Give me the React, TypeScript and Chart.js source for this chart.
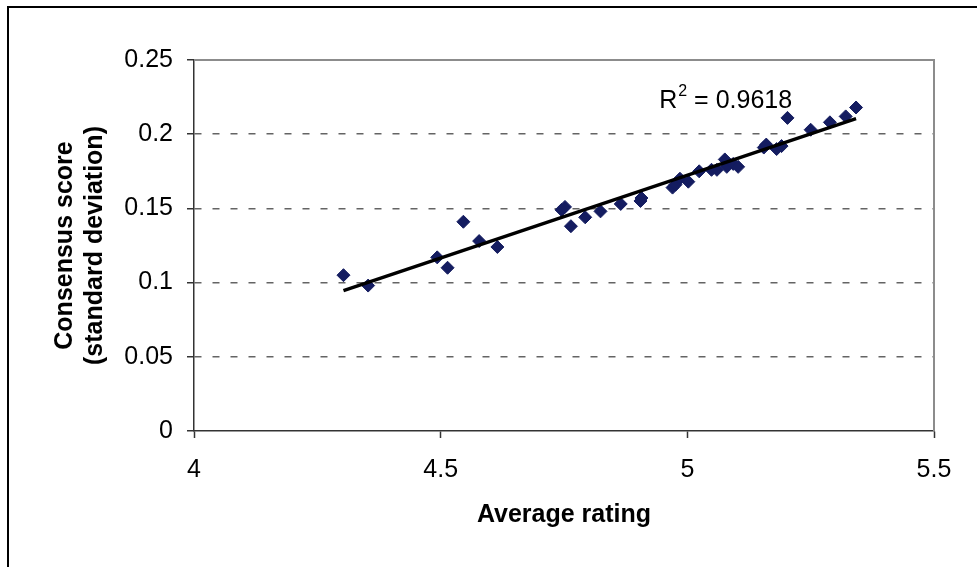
import { useEffect, useRef } from 'react';
import { Chart, registerables } from 'chart.js';

Chart.register(...registerables);

// ---- Data ----
const avgRating = [
  4.303, 4.353, 4.493, 4.514, 4.546, 4.578, 4.615, 4.745, 4.752, 4.764,
  4.793, 4.824, 4.865, 4.905, 4.907, 4.970, 4.976, 4.985, 5.002, 5.024,
  5.049, 5.060, 5.076, 5.080, 5.093, 5.103, 5.155, 5.160, 5.181, 5.191,
  5.203, 5.250, 5.289, 5.321, 5.342,
];
const consensus = [
  0.105, 0.098, 0.117, 0.110, 0.141, 0.128, 0.124, 0.149, 0.151, 0.138,
  0.144, 0.148, 0.153, 0.155, 0.157, 0.164, 0.166, 0.170, 0.168, 0.175,
  0.176, 0.176, 0.183, 0.178, 0.180, 0.178, 0.191, 0.193, 0.190, 0.192,
  0.211, 0.203, 0.208, 0.212, 0.218,
];
const xTickValues = [4, 4.5, 5, 5.5];
const xTickLabels = ['4', '4.5', '5', '5.5'];
const yTickValues = [0, 0.05, 0.1, 0.15, 0.2, 0.25];
const yTickLabels = ['0', '0.05', '0.1', '0.15', '0.2', '0.25'];
const xTitle = 'Average rating';
const yTitle = ['Consensus score', '(standard deviation)'];
const rSquaredText = '0.9618';
const rLabelAt = { x: 4.943, y: 0.2177 };

const FONT = '"Liberation Sans", Arial, Helvetica, sans-serif';
const MARKER = '#141C60';

function linearFit(xs: number[], ys: number[]) {
  const n = xs.length;
  let sx = 0, sy = 0, sxx = 0, sxy = 0;
  for (let i = 0; i < n; i++) {
    sx += xs[i]; sy += ys[i]; sxx += xs[i] * xs[i]; sxy += xs[i] * ys[i];
  }
  const slope = (n * sxy - sx * sy) / (n * sxx - sx * sx);
  const intercept = (sy - slope * sx) / n;
  return { slope, intercept };
}

const framePlugin = {
  id: 'frameAndLabel',
  beforeDatasetsDraw(chart: any) {
    const { ctx, chartArea: a } = chart;
    ctx.save();
    ctx.strokeStyle = '#8c8c8c';
    ctx.lineWidth = 2;
    ctx.beginPath();
    ctx.moveTo(a.left, a.top);
    ctx.lineTo(a.right, a.top);
    ctx.lineTo(a.right, a.bottom);
    ctx.stroke();
    ctx.restore();
  },
  afterDatasetsDraw(chart: any) {
    const { ctx } = chart;
    const xs = chart.scales.x;
    const ys = chart.scales.y;
    let px = xs.getPixelForValue(rLabelAt.x);
    const py = ys.getPixelForValue(rLabelAt.y);
    ctx.save();
    ctx.fillStyle = '#000';
    ctx.textBaseline = 'alphabetic';
    ctx.textAlign = 'left';
    ctx.font = `25px ${FONT}`;
    ctx.fillText('R', px, py);
    px += ctx.measureText('R').width + 1;
    ctx.font = `16px ${FONT}`;
    ctx.fillText('2', px, py - 12);
    px += ctx.measureText('2').width;
    ctx.font = `25px ${FONT}`;
    ctx.fillText(' = ' + rSquaredText, px, py);
    ctx.restore();
  },
};

export default function App() {
  const canvasRef = useRef<HTMLCanvasElement | null>(null);

  useEffect(() => {
    if (!canvasRef.current) return;
    const points = avgRating.map((x, i) => ({ x, y: consensus[i] }));
    const { slope, intercept } = linearFit(avgRating, consensus);
    const xMin = Math.min(...avgRating);
    const xMax = Math.max(...avgRating);
    const trend = [
      { x: xMin, y: intercept + slope * xMin },
      { x: xMax, y: intercept + slope * xMax },
    ];

    const chart = new Chart(canvasRef.current, {
      type: 'scatter',
      data: {
        datasets: [
          {
            label: 'Trend',
            data: trend,
            showLine: true,
            borderColor: '#000',
            borderWidth: 3.3,
            pointRadius: 0,
            order: 0,
          } as any,
          {
            label: 'Points',
            data: points,
            pointStyle: 'rectRot',
            pointRadius: 6.5,
            borderWidth: 1,
            backgroundColor: MARKER,
            borderColor: MARKER,
            order: 1,
          },
        ],
      },
      options: {
        responsive: false,
        animation: false,
        devicePixelRatio: 1,
        layout: { padding: { top: 60, right: 43, left: 0, bottom: 0 } },
        plugins: { legend: { display: false }, tooltip: { enabled: false } },
        scales: {
          x: {
            type: 'linear',
            min: 4,
            max: 5.5,
            afterBuildTicks: (s: any) => {
              s.ticks = xTickValues.map((v) => ({ value: v }));
            },
            afterFit: (s: any) => {
              s.height = 136;
            },
            ticks: {
              callback: (_v: any, i: number) => xTickLabels[i],
              color: '#000',
              font: { family: FONT, size: 25 },
              padding: 17,
              maxRotation: 0,
              autoSkip: false,
            },
            grid: {
              drawOnChartArea: false,
              drawTicks: true,
              tickLength: 7,
              tickColor: '#333',
              tickWidth: 1.5,
            },
            border: { color: '#333', width: 1.5 },
            title: {
              display: true,
              text: xTitle,
              color: '#000',
              font: { family: FONT, size: 25, weight: 'bold' },
              padding: { top: 0, bottom: 37 },
            },
          },
          y: {
            type: 'linear',
            min: 0,
            max: 0.25,
            afterBuildTicks: (s: any) => {
              s.ticks = yTickValues.map((v) => ({ value: v }));
            },
            afterFit: (s: any) => {
              s.width = 194;
            },
            ticks: {
              callback: (_v: any, i: number) => yTickLabels[i],
              color: '#000',
              font: { family: FONT, size: 25 },
              padding: 14,
              autoSkip: false,
            },
            grid: {
              color: (c: any) =>
                c.tick && (c.tick.value === 0 || c.tick.value === 0.25)
                  ? 'rgba(0,0,0,0)'
                  : '#646464',
              lineWidth: 1.5,
              drawTicks: true,
              tickLength: 7,
              tickColor: '#333',
              tickWidth: 1.5,
            },
            border: { color: '#333', width: 1.5, dash: [7, 11] },
            title: {
              display: true,
              text: yTitle,
              color: '#000',
              font: { family: FONT, size: 25, weight: 'bold', lineHeight: 1.2 },
              padding: { top: 50, bottom: 0 },
            },
          },
        },
      },
      plugins: [framePlugin],
    });
    return () => chart.destroy();
  }, []);

  return (
    <div
      style={{
        position: 'fixed',
        left: 0,
        top: 0,
        width: 977,
        height: 567,
        background: '#fff',
        overflow: 'hidden',
      }}
    >
      <div
        style={{
          position: 'absolute',
          left: 7,
          top: 6,
          width: 1100,
          height: 700,
          borderLeft: '2.5px solid #000',
          borderTop: '2.5px solid #000',
        }}
      />
      <canvas
        ref={canvasRef}
        width={977}
        height={567}
        style={{ position: 'absolute', left: 0, top: 0, display: 'block' }}
      />
    </div>
  );
}
